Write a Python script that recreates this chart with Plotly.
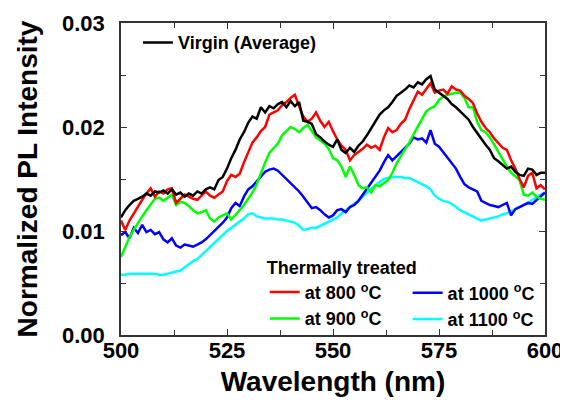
import plotly.graph_objects as go

wavelength = list(range(500, 601))

virgin = [
    .0113, .0120, .0125, .0129, .0131, .0133, .0136, .0134, .0138, .0137,
    .0139, .0136, .0140, .0135, .0137, .0133, .0136, .0134, .0138, .0136,
    .0140, .0142, .0140, .0149, .0152, .0160, .0170, .0178, .0188, .0195,
    .0204, .0210, .0208, .0219, .0214, .0220, .0218, .0222, .0224, .0219,
    .0225, .0220, .0224, .0206, .0205, .0203, .0193, .0190, .0186, .0183,
    .0181, .0188, .0178, .0175, .0180, .0176, .0182, .0186, .0192, .0199,
    .0205, .0212, .0216, .0219, .0224, .0230, .0233, .0236, .0240, .0238,
    .0243, .0241, .0246, .0249, .0236, .0233, .0230, .0227, .0222, .0219,
    .0215, .0211, .0207, .0200, .0194, .0189, .0183, .0178, .0170, .0167,
    .0163, .0160, .0162, .0157, .0154, .0153, .0160, .0159, .0154, .0156,
    .0156]

t800 = [
    .0110, .0101, .0110, .0117, .0123, .0130, .0136, .0141, .0133, .0138,
    .0136, .0140, .0141, .0127, .0131, .0135, .0133, .0131, .0130, .0134,
    .0138, .0134, .0132, .0135, .0138, .0148, .0154, .0152, .0155, .0166,
    .0175, .0185, .0190, .0196, .0200, .0212, .0214, .0216, .0221, .0224,
    .0228, .0231, .0220, .0210, .0205, .0208, .0214, .0206, .0200, .0205,
    .0196, .0188, .0182, .0178, .0168, .0173, .0176, .0179, .0183, .0180,
    .0182, .0178, .0190, .0199, .0195, .0197, .0203, .0207, .0217, .0225,
    .0234, .0231, .0236, .0242, .0233, .0235, .0236, .0232, .0239, .0236,
    .0235, .0230, .0227, .0223, .0213, .0205, .0199, .0195, .0189, .0184,
    .0180, .0178, .0168, .0160, .0150, .0142, .0153, .0156, .0141, .0144,
    .0140]

t900 = [
    .0075, .0085, .0094, .0101, .0108, .0114, .0120, .0126, .0131, .0132,
    .0129, .0132, .0135, .0125, .0128, .0127, .0124, .0120, .0117, .0118,
    .0120, .0112, .0109, .0113, .0115, .0117, .0111, .0115, .0120, .0125,
    .0131, .0137, .0145, .0156, .0166, .0175, .0179, .0184, .0192, .0196,
    .0200, .0198, .0195, .0199, .0202, .0196, .0190, .0187, .0184, .0179,
    .0170, .0168, .0162, .0152, .0162, .0154, .0144, .0141, .0142, .0137,
    .0144, .0143, .0146, .0149, .0156, .0165, .0172, .0178, .0185, .0193,
    .0200, .0207, .0215, .0218, .0220, .0226, .0229, .0231, .0232, .0233,
    .0233, .0228, .0219, .0219, .0205, .0197, .0195, .0190, .0183, .0176,
    .0168, .0162, .0156, .0152, .0149, .0135, .0134, .0137, .0133, .0131,
    .0130]

t1000 = [
    .0096, .0099, .0093, .0103, .0098, .0106, .0099, .0101, .0097, .0099,
    .0092, .0089, .0093, .0086, .0084, .0087, .0086, .0085, .0087, .0089,
    .0092, .0096, .0099, .0104, .0108, .0113, .0122, .0127, .0124, .0133,
    .0140, .0143, .0148, .0153, .0157, .0159, .0160, .0158, .0154, .0150,
    .0146, .0143, .0138, .0133, .0127, .0122, .0123, .0120, .0116, .0113,
    .0115, .0120, .0121, .0118, .0123, .0125, .0129, .0135, .0141, .0147,
    .0152, .0158, .0166, .0173, .0168, .0172, .0176, .0179, .0184, .0190,
    .0188, .0189, .0185, .0197, .0184, .0181, .0176, .0171, .0165, .0160,
    .0152, .0145, .0142, .0140, .0138, .0129, .0127, .0125, .0124, .0123,
    .0125, .0127, .0115, .0121, .0123, .0125, .0127, .0126, .0130, .0133,
    .0137]

t1100 = [
    .0058, .0058, .0059, .0059, .0059, .0059, .0059, .0059, .0059, .0058,
    .0058, .0059, .0060, .0061, .0062, .0065, .0068, .0071, .0073, .0077,
    .0081, .0085, .0089, .0093, .0097, .0100, .0103, .0106, .0109, .0112,
    .0116, .0117, .0114, .0113, .0112, .0112, .0112, .0111, .0111, .0110,
    .0109, .0108, .0105, .0101, .0102, .0103, .0103, .0105, .0107, .0109,
    .0111, .0113, .0117, .0120, .0123, .0126, .0129, .0133, .0137, .0141,
    .0144, .0147, .0150, .0151, .0152, .0152, .0152, .0151, .0151, .0149,
    .0147, .0145, .0143, .0140, .0134, .0131, .0129, .0128, .0126, .0123,
    .0120, .0118, .0116, .0114, .0112, .0110, .0111, .0112, .0113, .0114,
    .0116, .0117, .0119, .0121, .0123, .0125, .0127, .0130, .0132, .0135,
    .0137]

x_ticks = [500, 525, 550, 575, 600]
y_ticks = [0.00, 0.01, 0.02, 0.03]

FONT = "Arial, Liberation Sans, sans-serif"
LW = 2.5

fig = go.Figure()
# drawing order: cyan, blue, green, red, black (black on top)
fig.add_trace(go.Scatter(x=wavelength, y=t1100, mode="lines", name="at 1100 <sup>o</sup>C",
                         line=dict(color="#00ffff", width=LW), legend="legend3",
                         legendgroup="d", legendrank=2))
fig.add_trace(go.Scatter(x=wavelength, y=t1000, mode="lines", name="at 1000 <sup>o</sup>C",
                         line=dict(color="#0000ff", width=LW), legend="legend3",
                         legendgroup="c", legendrank=1))
fig.add_trace(go.Scatter(x=wavelength, y=t900, mode="lines", name="at 900 <sup>o</sup>C",
                         line=dict(color="#00ff00", width=LW), legend="legend2",
                         legendgroup="b", legendrank=2))
fig.add_trace(go.Scatter(x=wavelength, y=t800, mode="lines", name="at 800 <sup>o</sup>C",
                         line=dict(color="#ff0000", width=LW), legend="legend2",
                         legendgroup="a", legendrank=1))
fig.add_trace(go.Scatter(x=wavelength, y=virgin, mode="lines", name="Virgin (Average)",
                         line=dict(color="#000000", width=LW), legend="legend",
                         showlegend=True))

legfont = dict(family=FONT, size=18, color="black", weight="bold")

fig.update_layout(
    width=560, height=396,
    margin=dict(l=113, r=23, t=15, b=69, autoexpand=False),
    paper_bgcolor="white", plot_bgcolor="white",
    showlegend=True,
    font=dict(family=FONT, color="black"),
    legend=dict(x=0.040, y=0.996, xanchor="left", yanchor="top", bgcolor="rgba(0,0,0,0)",
                font=legfont),
    legend2=dict(x=0.339, y=0.271, xanchor="left", yanchor="top", bgcolor="rgba(0,0,0,0)",
                 font=legfont, tracegroupgap=0, traceorder="grouped",
                 title=dict(text="Thermally treated", font=legfont)),
    legend3=dict(x=0.676, y=0.194, xanchor="left", yanchor="top", bgcolor="rgba(0,0,0,0)",
                 font=legfont, tracegroupgap=0, traceorder="grouped"),
)

axis_common = dict(
    showline=True, linecolor="#333333", linewidth=1.5, mirror="ticks",
    ticks="inside", ticklen=6, tickwidth=1.2, tickcolor="#333333",
    showgrid=False, zeroline=False, automargin=False,
    tickfont=dict(family=FONT, size=22, color="black", weight="bold"),
)

fig.update_xaxes(
    range=[500, 600], tickvals=x_ticks, ticktext=[str(v) for v in x_ticks],
    ticklabelstandoff=-5,
    title=dict(text="Wavelength (nm)", font=dict(family=FONT, size=28, color="black", weight="bold"),
               standoff=9),
    minor=dict(ticks="inside", dtick=12.5, ticklen=5, tickcolor="#333333", tickwidth=1.2),
    **axis_common,
)
fig.update_yaxes(
    range=[0, 0.03], tickvals=y_ticks, ticktext=["%.2f" % v for v in y_ticks],
    ticklabelstandoff=10,
    title=dict(text="Normalized PL Intensity", font=dict(family=FONT, size=28, color="black", weight="bold"),
               standoff=16),
    minor=dict(ticks="inside", dtick=0.005, ticklen=5, tickcolor="#333333", tickwidth=1.2),
    **axis_common,
)

fig.write_html("out.html")
